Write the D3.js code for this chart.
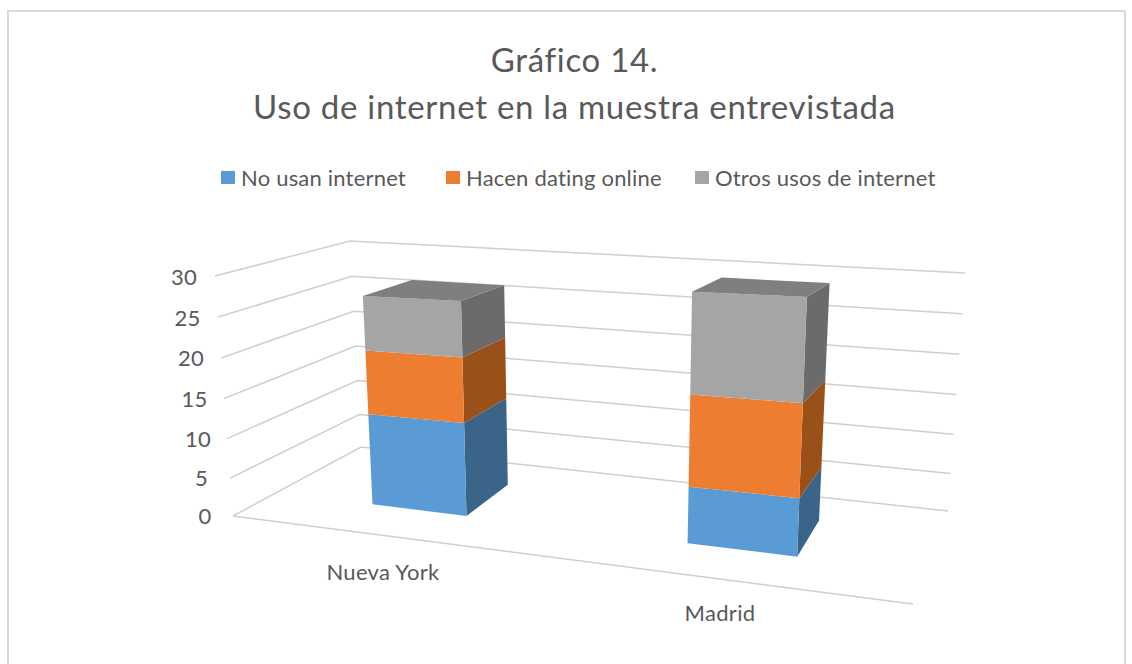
<!DOCTYPE html>
<html><head><meta charset="utf-8">
<script src="https://cdnjs.cloudflare.com/ajax/libs/d3/7.8.5/d3.min.js"></script>
<style>html,body{margin:0;padding:0;background:#fff}svg{display:block}text{font-family:Lato,"Open Sans",sans-serif;fill:#595959}</style>
</head><body><div id="c"></div>
<script>
const categories = ["Nueva York", "Madrid"];
const seriesNames = ["No usan internet", "Hacen dating online", "Otros usos de internet"];
const noUsan = [11.8, 6.8];
const dating = [8, 10.6];
const otros = [6.8, 11.6];
const valueTicks = [0, 5, 10, 15, 20, 25, 30];
const colors = ["#5B9BD5", "#ED7D31", "#A5A5A5"];
const sideColors = ["#3A6589", "#995019", "#6B6B6B"];
const topColor = "#7F7F7F";

const W = 1132, H = 664;
const svg = d3.select("#c").append("svg").attr("width", W).attr("height", H);

// chart frame
svg.append("path").attr("d", "M8,664V11H1125V664").attr("fill", "none").attr("stroke", "#d9d9d9").attr("stroke-width", 2);

// 3D box corners: f=front, b=back, l=left, r=right, 0=floor, 1=top
const corners = {
  fl0: [233, 516], fr0: [913, 604], bl0: [361, 447], br0: [948, 511],
  fl1: [215, 276], fr1: [929, 304], bl1: [350, 241], br1: [965, 273]
};
// slight perspective foreshortening of the value axis
const vScale = d3.scalePow().exponent(1.03).domain([0, 30]).range([0, 1]);
const lerp = d3.interpolateNumber;
function project(u, value, w) {
  const t = vScale(value);
  const pick = i => {
    const f0 = lerp(corners.fl0[i], corners.fr0[i])(u), b0 = lerp(corners.bl0[i], corners.br0[i])(u);
    const f1 = lerp(corners.fl1[i], corners.fr1[i])(u), b1 = lerp(corners.bl1[i], corners.br1[i])(u);
    return lerp(lerp(f0, b0)(w), lerp(f1, b1)(w))(t);
  };
  return [pick(0), pick(1)];
}
const line = d3.line();
const grid = svg.append("g").attr("fill", "none").attr("stroke", "#cfcfcf").attr("stroke-width", 1.5);
valueTicks.forEach(v => {
  grid.append("path").attr("d", line([project(0, v, 0), project(0, v, 1), project(1, v, 1)]));
});
grid.append("path").attr("d", line([project(0, 0, 0), project(1, 0, 0)]));

// value axis labels
const labelX = d3.scaleLinear().domain([0, 30]).range([205, 184]);
const labelY = d3.scaleLinear().domain([0, 1]).range([516, 277]);
svg.append("g").selectAll("text").data(valueTicks).join("text")
  .attr("x", v => labelX(v)).attr("y", v => labelY(vScale(v))).attr("dy", "0.35em")
  .attr("text-anchor", "middle").attr("font-size", 22).attr("letter-spacing", "0.2px").text(v => v);

// category placement along the floor and bar depth
const barStart = d3.scaleOrdinal().domain(categories).range([0.148, 0.634]);
const barEnd = d3.scaleOrdinal().domain(categories).range([0.293, 0.803]);
const depthFront = 0.34, depthBack = 0.75;

const series = [noUsan, dating, otros];
const table = categories.map((c, i) => {
  const o = {category: c};
  seriesNames.forEach((s, k) => o[s] = series[k][i]);
  return o;
});
const stacked = d3.stack().keys(seriesNames)(table);

const bars = svg.append("g");
categories.forEach((c, ci) => {
  const u0 = barStart(c), u1 = barEnd(c);
  const g = bars.append("g");
  stacked.forEach((layer, si) => {
    const [a, b] = layer[ci];
    const side = [project(u1, a, depthFront), project(u1, a, depthBack), project(u1, b, depthBack), project(u1, b, depthFront)];
    g.append("path").attr("d", line(side) + "Z").attr("fill", sideColors[si]);
  });
  stacked.forEach((layer, si) => {
    const [a, b] = layer[ci];
    const front = [project(u0, a, depthFront), project(u1, a, depthFront), project(u1, b, depthFront), project(u0, b, depthFront)];
    g.append("path").attr("d", line(front) + "Z").attr("fill", colors[si]);
  });
  const top = stacked[stacked.length - 1][ci][1];
  const roof = [project(u0, top, depthFront), project(u1, top, depthFront), project(u1, top, depthBack), project(u0, top, depthBack)];
  g.append("path").attr("d", line(roof) + "Z").attr("fill", topColor);
});

// category labels
const catX = d3.scaleOrdinal().domain(categories).range([383, 720]);
const catY = d3.scaleOrdinal().domain(categories).range([580, 621]);
svg.append("g").selectAll("text").data(categories).join("text")
  .attr("x", c => catX(c)).attr("y", c => catY(c))
  .attr("text-anchor", "middle").attr("font-size", 22).attr("letter-spacing", "0.3px").text(c => c);

// title
const titleLines = ["Gráfico 14.", "Uso de internet en la muestra entrevistada"];
svg.append("g").selectAll("text").data(titleLines).join("text")
  .attr("x", 574.5).attr("y", (d, i) => 72 + i * 47)
  .attr("text-anchor", "middle").attr("font-size", 33).attr("letter-spacing", "0.7px").text(d => d);

// legend
const legendSwatchX = [221, 446, 695];
const leg = svg.append("g").selectAll("g").data(seriesNames).join("g")
  .attr("transform", (d, i) => `translate(${legendSwatchX[i]},171)`);
leg.append("rect").attr("width", 14).attr("height", 13).attr("fill", (d, i) => colors[i]);
leg.append("text").attr("x", 20).attr("y", 15).attr("font-size", 22).attr("letter-spacing", "0.2px").text(d => d);
</script></body></html>
